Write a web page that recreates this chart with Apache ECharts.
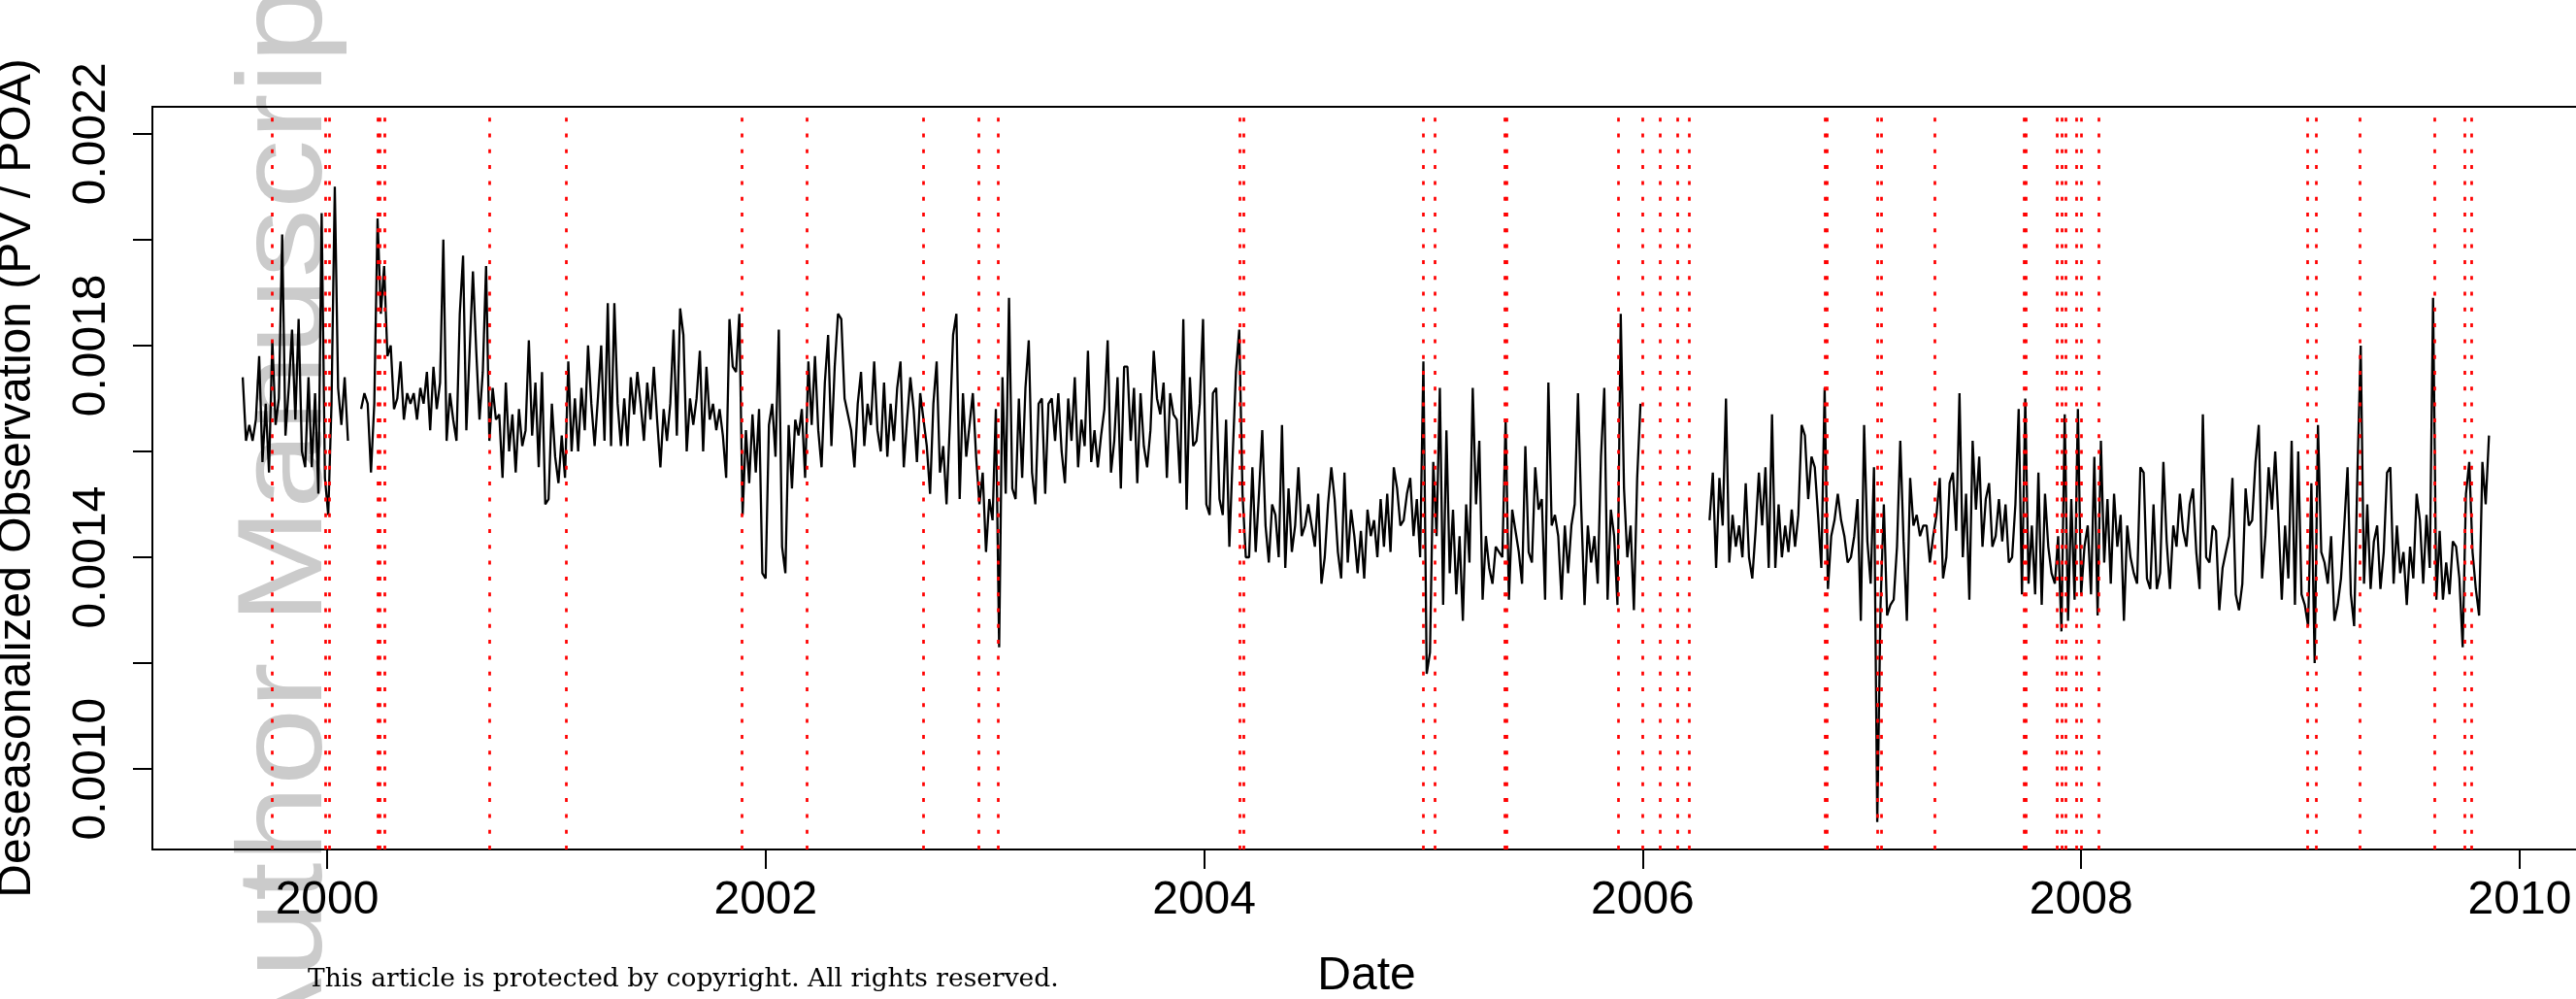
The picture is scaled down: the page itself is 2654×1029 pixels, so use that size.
<!DOCTYPE html>
<html><head><meta charset="utf-8">
<script src="https://cdn.jsdelivr.net/npm/echarts@6/dist/echarts.min.js"></script>
<style>html,body{margin:0;padding:0;background:#fff;}#chart{width:2654px;height:1029px;}</style>
</head><body><div id="chart"></div>
<script>
// Deseasonalized observation (PV / POA), values in units of 1e-4, one reading every stepYears from startYear
const startYear = 1999.615;
const stepYears = 0.015;
const obsSeg1 = [
17.4,16.2,16.5,16.2,16.6,17.8,15.8,16.9,15.6,18.1,
16.5,17.0,20.1,16.3,17.2,18.3,16.6,18.5,16.0,15.7,
17.4,15.7,17.1,15.2,20.5,15.5,14.8,16.9,21.0,17.2,
16.5,17.4,16.2,null,null,null,16.8,17.1,16.9,15.6,
16.9,20.4,18.6,19.5,17.8,18.0,16.8,17.0,17.7,16.6,
17.1,16.9,17.1,16.6,17.2,16.9,17.5,16.4,17.6,16.8,
17.3,20.0,16.2,17.1,16.6,16.2,18.6,19.7,16.4,17.9,
19.4,17.9,16.6,17.5,19.5,16.2,17.2,16.6,16.7,15.5,
17.3,16.0,16.7,15.6,16.8,16.1];
const obsSeg2 = [
16.4,18.1,16.3,17.3,15.7,17.5,15.0,15.1,16.9,15.9,
15.4,16.3,15.5,17.7,16.0,17.0,16.0,17.2,16.4,18.0,
16.9,16.1,17.0,18.0,16.2,18.8,16.1,18.8,16.9,16.1,
17.0,16.1,17.4,16.7,17.5,16.9,16.2,17.3,16.6,17.6,
16.6,15.7,16.8,16.2,16.9,18.3,16.3,18.7,18.2,16.0,
17.0,16.5,17.0,17.9,16.0,17.6,16.6,16.9,16.4,16.8,
16.3,15.5,18.5,17.6,17.5,18.6,14.8,16.4,15.4,16.7,
15.6,16.8,13.7,13.6,16.5,16.9,15.9,18.3,14.2,13.7,
16.5,15.3,16.6];
const obsSeg3 = [
16.3,16.8,15.5,17.7,16.5,17.8,16.4,15.7,17.3,18.2,
16.1,17.6,18.6,18.5,17.0,16.7,16.4,15.7,16.9,17.5,
16.1,16.9,16.5,17.7,16.4,16.0,17.3,15.9,16.9,16.2,
17.2,17.7,15.7,16.6,17.4,16.8,15.8,17.1,16.6,16.1,
15.2,16.9,17.7,15.6,16.1,15.0,16.5,18.2,18.6,15.1,
17.1,15.9,16.5,17.1,15.9,15.0,15.6,14.1,15.1,14.7,
16.8,12.3,17.4,15.2,18.9,15.3,15.1,17.0,15.5,17.2,
18.1,15.6,15.0,16.9,17.0,15.2,16.9,17.0,16.2,17.1,
16.0,15.4,17.0,16.2,17.4,15.7,16.6,16.1];
const obsSeg4 = [
17.9,15.8,16.4,15.7,16.3,16.8,18.1,15.6,16.2,17.4,
15.3,17.6,17.6,16.2,17.2,15.4,17.1,16.1,15.7,16.4,
17.9,17.0,16.7,17.3,15.5,17.1,16.7,16.6,15.4,18.5,
14.9,17.4,16.1,16.2,16.9,18.5,15.0,14.8,17.1,17.2,
15.1,14.8,16.6,14.2,15.9,17.5,18.3,15.2,14.0,14.0,
15.7,14.1,15.2,16.4,14.6,13.9,15.0,14.8,14.0,16.5,
13.8,15.3,14.1,14.6,15.7,14.4,14.6,15.0,14.6,14.2,
15.2,13.5,14.0,15.0,15.7,15.1,14.1,13.6,15.6,13.9,
14.9,14.4,13.7,14.5,13.6,14.9];
const obsSeg5 = [
14.4,14.7,14.0,15.1,14.2,15.2,14.1,15.7,15.3,14.6,
14.7,15.2,15.5,14.4,15.1,14.0,17.7,11.8,12.2,15.8,
14.4,17.2,13.1,16.4,13.7,14.9,13.3,14.4,12.8,15.0,
13.9,17.2,15.0,16.2,13.2,14.4,13.8,13.5,14.2,14.1,
14.0,16.6,13.2,14.9,14.5,14.1,13.5,16.1,14.1,13.9,
15.7,14.9,15.1,13.2,17.3,14.6,14.8,14.4,13.2,14.6,
13.7,14.6,15.0,17.1,14.9,13.1,14.6,13.9,14.4,13.5,
15.9,17.2,13.2,14.9,14.4,13.1,18.6,15.3,14.0,14.6,
13.0,15.5,16.9];
const obsGap2006 = [null,null,null,null,null,null,null,null,null,null,
null,null,null,null,null,null,null,null,null,null];
const obsSeg6 = [
14.7,15.6,13.8,15.5,14.6,17.0,13.9,14.8,14.2,14.6,
14.0,15.4,14.0,13.6,14.5,15.6,14.6,15.7,13.8,16.7,
13.8,15.0,14.0,14.6,14.1,14.9,14.2,14.8,16.5,16.3,
15.1,15.9,15.7,14.8,13.8,17.2,13.4,14.4,14.7,15.2,
14.7,14.4,13.9,14.0,14.4,15.1,12.8,16.5,14.3,13.5,
15.7,9.0,13.1,15.0,12.9,13.1,13.2,14.2,16.2,14.3,
12.8,15.5,14.6,14.8,14.4,14.6,14.6,13.9];
const obsSeg7 = [
14.4,14.8,15.5,13.6,14.0,15.4,15.6,14.5,17.1,14.0,
15.2,13.2,16.2,14.9,15.9,14.2,15.1,15.4,14.2,14.4,
15.1,14.3,15.0,13.9,14.0,15.0,16.8,13.3,17.0,13.5,
14.6,13.3,15.6,13.1,15.2,14.2,13.7,13.5,14.4,12.6,
16.7,12.8,15.1,13.2,16.8,13.3,14.2,14.6,13.3,15.9,
12.9,16.2,13.9,15.1,13.5,15.2,14.2,14.8,12.8,14.6,
14.0,13.7,13.5,15.7,15.6,13.6,13.4,15.0,13.4,13.7,
15.8,14.3,13.4,14.6,14.2,15.2,14.5,14.2,15.0,15.3,
14.1,13.4,16.7,14.0,13.9,14.6];
const obsSeg8 = [
14.5,13.0,13.8,14.1,14.4,15.5,13.3,13.0,13.5,15.3,
14.6,14.7,15.8,16.5,13.6,14.4,15.7,14.9,16.0,14.7,
13.2,14.6,13.6,16.2,13.1,16.0,13.3,13.1,12.7,15.4,
12.0,16.5,14.1,13.9,13.5,14.4,12.8,13.1,13.6,14.6,
15.7,13.3,12.7,15.6,18.0,13.5,15.0,13.4,14.3,14.6,
13.4,14.1,15.6,15.7,13.5,14.6,13.7,14.1,13.1,14.2,
13.6,15.2,14.7,13.5,14.8,13.8,18.9,13.2,14.5,13.2,
13.9,13.3,14.3,14.2,13.6,12.3,15.2,15.8,14.1,13.4,
12.9,15.8,15.0,16.3];

// Detected break dates (decimal years), drawn as red dotted verticals
const breakYears = [1999.748,1999.988,2000.010,2000.230,2000.242,2000.264,2000.741,2001.088,2001.889,
2002.193,2002.725,2002.966,2003.062,2004.157,2004.182,2004.999,2005.049,2005.371,2005.380,2005.892,
2005.998,2006.082,2006.162,2006.214,2006.825,2006.838,2007.070,2007.085,2007.329,2007.742,2007.752,
2007.888,2007.912,2007.930,2007.983,2008.004,2008.084,2009.027,2009.073,2009.270,2009.611,2009.754,2009.778];

const xTickYears = [2000,2002,2004,2006,2008,2010];
const yTickValues = [10,12,14,16,18,20,22];
const yLabelValues = [10,14,18,22];

const allObs = [].concat(obsSeg1,obsSeg2,obsSeg3,obsSeg4,obsSeg5,obsGap2006,obsSeg6,obsSeg7,obsSeg8);
const seriesData = allObs.map((v,i)=>[startYear + i*stepYears, v]);

const chart = echarts.init(document.getElementById('chart'), null, {renderer:'canvas', width:2654, height:1029});
const FONT = '"Liberation Sans", Arial, sans-serif';
chart.setOption({
  animation:false,
  backgroundColor:'#ffffff',
  textStyle:{fontFamily:FONT, color:'#000'},
  graphic:[
    {type:'text', x:297, y:524, rotation:Math.PI/2, scaleX:1.14, z:-10, silent:true,
     style:{text:'Author Manuscript', font:'125px "Liberation Sans", Arial, sans-serif', fill:'#cbcbcb',
            textAlign:'center', textVerticalAlign:'middle', align:'center', verticalAlign:'middle'}},
    {type:'text', x:317, y:1009, z:10, silent:true,
     style:{text:'This article is protected by copyright. All rights reserved.', font:'26.5px "DejaVu Serif", serif', fill:'#000',
            textAlign:'left', textVerticalAlign:'middle', align:'left', verticalAlign:'middle'}}
  ],
  grid:{left:157, top:110, width:2502, height:765, containLabel:false, outerBoundsMode:'none',
        show:true, borderColor:'#000', borderWidth:2, backgroundColor:'transparent'},
  xAxis:{type:'value', min:1999.203, max:2010.279,
    name:'Date', nameLocation:'middle', nameGap:107,
    nameTextStyle:{fontSize:48, color:'#000', fontFamily:FONT},
    axisLine:{show:false},
    axisTick:{show:true, length:20, lineStyle:{color:'#000', width:2}, customValues:xTickYears},
    axisLabel:{show:true, fontSize:48, color:'#000', margin:29, fontFamily:FONT, customValues:xTickYears,
      formatter:(v)=>String(Math.round(v))},
    splitLine:{show:false}},
  yAxis:{type:'value', min:8.48, max:22.51,
    name:'Deseasonalized Observation (PV / POA)', nameLocation:'middle', nameGap:115, nameRotate:90,
    nameTextStyle:{fontSize:48, color:'#000', fontFamily:FONT},
    axisLine:{show:false},
    axisTick:{show:true, length:20, lineStyle:{color:'#000', width:2}, customValues:yTickValues},
    axisLabel:{show:true, fontSize:48, color:'#000', margin:38, rotate:90, fontFamily:FONT, customValues:yLabelValues,
      formatter:(v)=>(v/10000).toFixed(4)},
    splitLine:{show:false}},
  series:[{
    type:'line', data:seriesData, showSymbol:false, symbol:'none', connectNulls:false, z:2,
    lineStyle:{color:'#000', width:2.3}, silent:true,
    markLine:{silent:true, symbol:['none','none'], label:{show:false}, z:5, animation:false,
      lineStyle:{color:'#ff0000', width:2.7, type:[4,12.3], cap:'butt'},
      emphasis:{disabled:true},
      data:breakYears.map(t=>({xAxis:t}))}
  }]
});
</script></body></html>
